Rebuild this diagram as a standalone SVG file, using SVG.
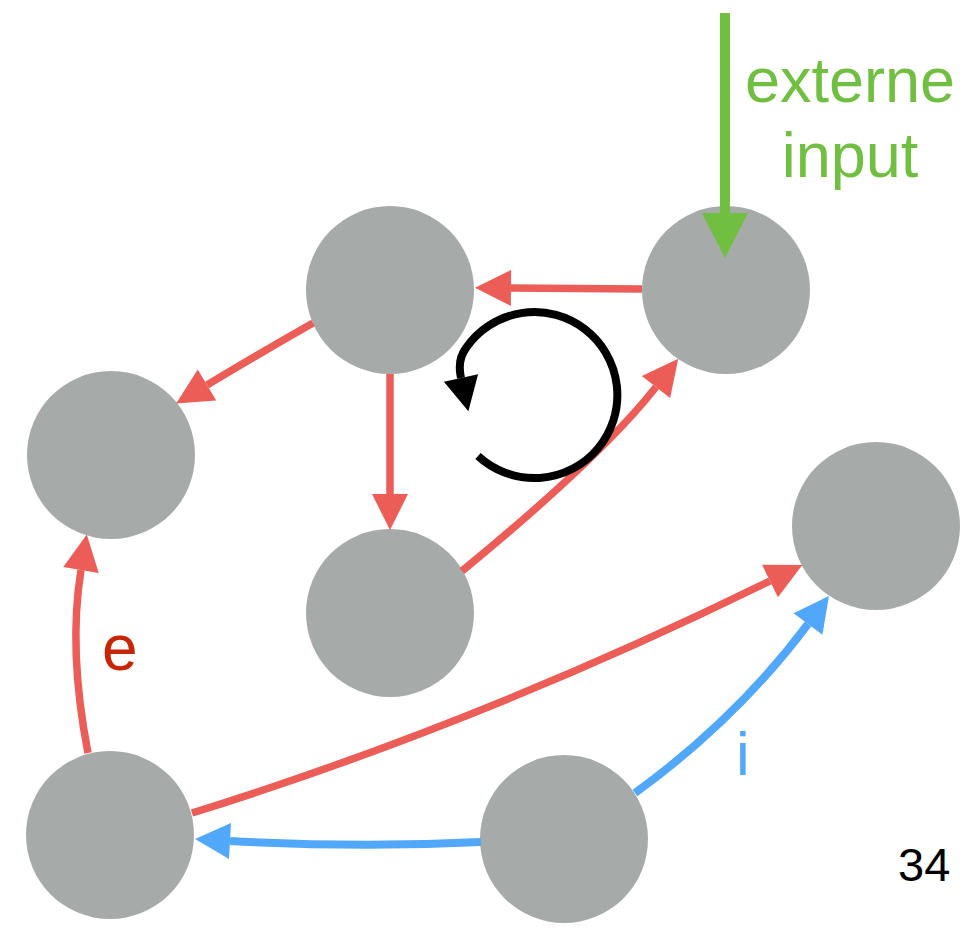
<svg xmlns="http://www.w3.org/2000/svg" width="965" height="928" viewBox="0 0 965 928">
<style>
.node{fill:#a6aaa9}
.red{fill:none;stroke:#ec5d57;stroke-width:7.5}
.blue{fill:none;stroke:#51a7f9;stroke-width:8}
.blk{fill:none;stroke:#000;stroke-width:8}
.grn{fill:none;stroke:#70bf41;stroke-width:10}
.lbl{font-family:"Liberation Sans",Arial,sans-serif}
</style>
<defs>
<marker id="ar" markerUnits="userSpaceOnUse" viewBox="0 -18 36 36" markerWidth="36" markerHeight="36" refX="0" refY="0" orient="auto" overflow="visible"><path d="M0,-18 L36,0 L0,18 z" fill="#ec5d57"/></marker>
<marker id="ab" markerUnits="userSpaceOnUse" viewBox="0 -18 36 36" markerWidth="36" markerHeight="36" refX="0" refY="0" orient="auto" overflow="visible"><path d="M0,-18 L35,0 L0,18 z" fill="#51a7f9"/></marker>
<marker id="ak" markerUnits="userSpaceOnUse" viewBox="0 -18 36 36" markerWidth="36" markerHeight="36" refX="0" refY="0" orient="auto" overflow="visible"><path d="M0,-17.5 L34,0 L0,17.5 z" fill="#000"/></marker>
<marker id="ag" markerUnits="userSpaceOnUse" viewBox="0 -23 45 46" markerWidth="45" markerHeight="46" refX="0" refY="0" orient="auto" overflow="visible"><path d="M0,-23 L45,0 L0,23 z" fill="#70bf41"/></marker>
</defs>
<g id="nodes">
<g id="nA"><circle class="node" cx="390" cy="290" r="84"/></g>
<g id="nB"><circle class="node" cx="726" cy="290" r="84"/></g>
<g id="nC"><circle class="node" cx="111" cy="455" r="84"/></g>
<g id="nD"><circle class="node" cx="390" cy="613" r="84"/></g>
<g id="nE"><circle class="node" cx="876" cy="526" r="84"/></g>
<g id="nF"><circle class="node" cx="110" cy="835" r="84"/></g>
<g id="nG"><circle class="node" cx="564" cy="839" r="84"/></g>
</g>
<g id="connectors">
<path class="red" d="M642,289 L511,288" marker-end="url(#ar)"/>
<path class="red" d="M313,323 Q262,352 207,385" marker-end="url(#ar)"/>
<path class="red" d="M390,374 L390,494" marker-end="url(#ar)"/>
<path class="red" d="M462,571 Q601,457 656,387" marker-end="url(#ar)"/>
<path class="red" d="M88,753 Q68,650 81,570" marker-end="url(#ar)"/>
<path class="red" d="M192,813 Q481,723 770,581" marker-end="url(#ar)"/>
<path class="blue" d="M635,793 Q737,719 808,624" marker-end="url(#ab)"/>
<path class="blue" d="M481,842 Q360,848 230,841" marker-end="url(#ab)"/>
<path class="blk" d="M478,456 A83,83 0 1,0 466,348 Q457,360 461,378" marker-end="url(#ak)"/>
<path class="grn" d="M725,13 L725,213" marker-end="url(#ag)"/>
</g>
<g id="labels" class="lbl">
<text x="850" y="102" font-size="63" fill="#70bf41" text-anchor="middle">externe</text>
<text x="850" y="177" font-size="63" fill="#70bf41" text-anchor="middle">input</text>
<text x="102" y="670" font-size="64" fill="#c82506">e</text>
<text x="736" y="775" font-size="62" fill="#51a7f9">i</text>
<text x="898" y="881" font-size="47" fill="#000">34</text>
</g>
</svg>
